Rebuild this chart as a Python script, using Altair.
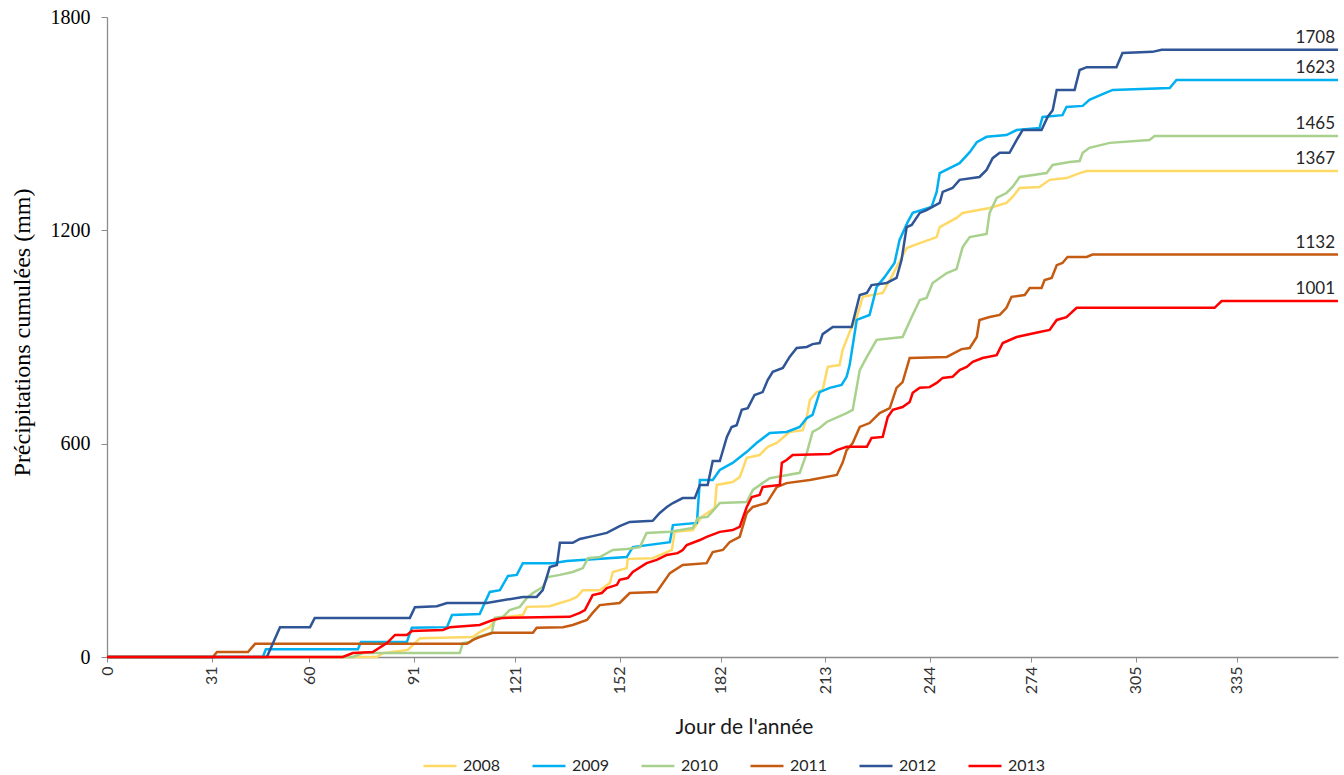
import altair as alt
import pandas as pd

# Series names and their line colours
years = ["2008", "2009", "2010", "2011", "2012", "2013"]
colors = ["#FFD966", "#00B0F0", "#A9D18E", "#C55A11", "#2F5597", "#FF0000"]

# Axis tick positions: first day of each month, and rainfall levels
month_ticks = [0, 31, 60, 91, 121, 152, 182, 213, 244, 274, 305, 335]
mm_ticks = [0, 600, 1200, 1800]

# Cumulative rainfall, (day of year, mm)
rain_2008 = [(0, 0), (80, 0), (81.8, 11), (89.2, 20), (92.8, 53), (108.5, 56), (110.5, 70),
             (113.5, 84), (115.6, 110), (118.6, 113), (123.3, 118), (124.5, 141), (131.3, 143),
             (134.3, 152), (137.2, 160), (139.3, 169), (141.1, 188), (146.1, 188), (149.1, 208),
             (150, 239), (154.1, 250), (154.4, 276), (161.8, 278), (166, 295), (167.5, 301),
             (168.3, 352), (173.7, 357), (176.3, 394), (180.2, 419), (180.8, 484), (185.5, 492),
             (187.6, 506), (189.7, 560), (193.5, 568), (195.9, 591), (198.6, 602), (202.4, 633),
             (206.3, 638), (207.5, 675), (208.4, 723), (210.4, 745), (212.2, 751), (213.7, 816),
             (217.2, 821), (218.1, 863), (220.2, 914), (222.3, 956), (224.1, 1013), (230, 1024),
             (232.1, 1060), (237.1, 1150), (241, 1164), (246, 1181), (246.9, 1209), (251.9, 1235),
             (253.7, 1249), (261.7, 1263), (266.7, 1277), (268.5, 1294), (270.6, 1319),
             (276.5, 1322), (279.5, 1342), (284.5, 1347), (288.4, 1361), (290.5, 1367), (365, 1367)]

rain_2009 = [(0, 0), (46.2, 0), (47.1, 22), (74.4, 22), (75.3, 42), (88.9, 42), (90.4, 82),
             (100.8, 84), (102.3, 118), (110.5, 121), (113.5, 183), (116.5, 188), (118.9, 228),
             (121.5, 231), (123.3, 264), (132.2, 264), (136.3, 270), (154.1, 281), (155.9, 309),
             (166.9, 323), (167.8, 371), (174.9, 377), (175.8, 498), (179.6, 498), (181.7, 526),
             (185.5, 546), (189.7, 577), (192.6, 602), (196.5, 630), (201.5, 633), (205.4, 647),
             (207.5, 672), (209.2, 681), (211.3, 745), (214.3, 757), (217.8, 765), (219.3, 788),
             (220.2, 821), (222.3, 948), (226.1, 962), (228.2, 1041), (230.6, 1069), (233.5, 1108),
             (235, 1173), (237.4, 1223), (238.9, 1249), (244.5, 1266), (246, 1308), (246.9, 1361),
             (252.8, 1389), (255.8, 1420), (257.9, 1448), (260.8, 1463), (266.7, 1468),
             (269.7, 1482), (276.5, 1488), (277.4, 1519), (283.3, 1524), (284.5, 1547),
             (289.3, 1550), (291.3, 1567), (295.2, 1583), (298.2, 1595), (315.1, 1600),
             (317.1, 1623), (365, 1623)]

rain_2010 = [(0, 0), (72.9, 0), (75.9, 11), (104.6, 11), (105.5, 39), (107.6, 42), (109.7, 56),
             (114.1, 68), (115, 110), (117.4, 113), (119.4, 132), (122.4, 141), (124.5, 166),
             (126.3, 180), (129.2, 197), (130.7, 225), (134.3, 231), (138.1, 239), (141.1, 250),
             (142.6, 278), (146.1, 281), (150, 301), (154.1, 304), (158, 309), (160, 349),
             (166.9, 352), (173.7, 363), (175.2, 391), (178.1, 394), (181.7, 433), (189.7, 436),
             (191.5, 470), (196.5, 503), (205.4, 518), (207.5, 574), (209.2, 633), (211.3, 644),
             (213.4, 661), (219.3, 686), (221.1, 695), (223.2, 807), (225.3, 844), (228.2, 892),
             (235.9, 900), (238.6, 956), (241, 1004), (243, 1010), (244.8, 1052), (249, 1080),
             (251.9, 1091), (253.7, 1153), (255.8, 1181), (260.8, 1190), (261.7, 1249),
             (263.8, 1291), (266.7, 1305), (268.5, 1322), (270.6, 1350), (278.6, 1361),
             (280.4, 1384), (285.4, 1392), (288.4, 1395), (289.3, 1418), (291.3, 1432),
             (297.3, 1446), (309.1, 1454), (310.6, 1465), (365, 1465)]

rain_2011 = [(0, 0), (31.4, 0), (32.6, 14), (41.8, 14), (43.9, 37), (106.7, 37), (108.5, 48),
             (110.5, 56), (114.4, 68), (126.3, 68), (127.4, 82), (135.2, 84), (138.1, 90),
             (142.3, 104), (144, 124), (146.1, 146), (152, 152), (155, 180), (163, 183),
             (166.9, 236), (170.7, 259), (177.8, 264), (179.6, 295), (182.6, 301), (184.6, 323),
             (187.6, 338), (189.7, 405), (191.5, 422), (195.6, 433), (198.6, 478), (201.5, 489),
             (208.4, 498), (216.4, 512), (218.1, 546), (219.3, 582), (221.1, 602), (223.2, 647),
             (226.1, 658), (229.1, 686), (232.1, 700), (234.1, 757), (235.9, 773), (238, 841),
             (249, 844), (253.4, 866), (255.8, 869), (257.9, 900), (258.7, 948), (261.7, 956),
             (264.7, 962), (266.7, 982), (268.2, 1013), (272.1, 1018), (273.6, 1038),
             (277.1, 1038), (278, 1060), (280.1, 1066), (281.6, 1102), (283.3, 1108),
             (284.8, 1125), (290.5, 1125), (292.2, 1132), (365, 1132)]

rain_2012 = [(0, 0), (47.4, 0), (51.3, 84), (60.2, 84), (61.6, 110), (89.8, 110), (91.3, 140),
             (97.8, 143), (100.8, 152), (112.6, 152), (123.3, 169), (127.4, 169), (129.2, 188),
             (131.3, 253), (133.4, 259), (134.3, 321), (138.1, 321), (140.2, 332), (144, 340),
             (148.2, 349), (152, 368), (155, 380), (161.8, 383), (163.9, 405), (166, 422),
             (167.8, 433), (170.7, 447), (174.3, 447), (175.8, 484), (178.1, 484), (179.6, 551),
             (181.7, 551), (183.8, 619), (185.2, 647), (186.7, 652), (188.2, 695), (190, 700),
             (192, 737), (194.4, 745), (195.9, 779), (197.4, 802), (200.4, 813), (202.4, 844),
             (204.5, 869), (207.5, 872), (209.2, 880), (211.3, 883), (212.2, 908), (215.2, 928),
             (220.8, 928), (223.2, 1018), (225.3, 1024), (226.7, 1046), (231.2, 1052),
             (234.1, 1066), (235.6, 1117), (237.1, 1209), (238.6, 1215), (241, 1249),
             (243, 1257), (246.9, 1277), (247.8, 1308), (250.7, 1319), (252.8, 1342),
             (258.7, 1350), (260.8, 1370), (262.6, 1403), (264.7, 1418), (267.6, 1418),
             (269.7, 1454), (271.5, 1482), (277.1, 1482), (278.9, 1519), (280.4, 1538),
             (281.6, 1595), (286.9, 1595), (288.4, 1651), (290.5, 1659), (299.3, 1659),
             (301.1, 1699), (310, 1702), (312.7, 1708), (365, 1708)]

rain_2013 = [(0, 0), (69.9, 0), (72.9, 11), (78.8, 14), (83, 39), (85.4, 62), (88.9, 62),
             (90.4, 73), (99.6, 76), (101.7, 84), (110.5, 90), (114.4, 104), (117.4, 110),
             (137.2, 113), (140.2, 124), (141.7, 132), (144, 174), (146.7, 180), (148.2, 194),
             (151.2, 203), (152, 217), (154.4, 222), (155.9, 239), (160, 264), (163, 273),
             (166, 287), (169.2, 292), (170.7, 301), (171.9, 315), (175.8, 329), (177.8, 338),
             (181.7, 352), (185.5, 357), (187.6, 366), (189.7, 422), (191.2, 450), (193.5, 456),
             (194.4, 478), (199.5, 484), (200.1, 546), (201.5, 554), (203.3, 568), (214.3, 571),
             (216.4, 582), (219.3, 591), (225.3, 591), (226.7, 616), (230, 619), (231.5, 675),
             (233, 695), (235.9, 703), (238, 717), (238.9, 743), (241, 757), (243.9, 759),
             (246, 771), (247.8, 785), (250.7, 788), (252.8, 807), (254.9, 816), (256.7, 830),
             (259.6, 841), (263.8, 849), (265.6, 883), (269.7, 900), (276.5, 914), (279.5, 920),
             (281.6, 948), (284.5, 956), (287.5, 982), (328.4, 982), (330.5, 1001), (365, 1001)]

series = {"2008": rain_2008, "2009": rain_2009, "2010": rain_2010,
          "2011": rain_2011, "2012": rain_2012, "2013": rain_2013}

df = pd.DataFrame([{"year": y, "day": d, "mm": m}
                   for y, pts in series.items() for d, m in pts])
totals = pd.DataFrame([{"year": y, "day": pts[-1][0], "mm": pts[-1][1]}
                       for y, pts in series.items()])

x_enc = alt.X(
    "day:Q",
    title="Jour de l'année",
    scale=alt.Scale(domain=[0, 365], nice=False, zero=False),
    axis=alt.Axis(
        values=month_ticks, grid=False, labelAngle=270, labelFlush=False,
        labelFont="Lato", labelFontSize=16, labelColor="#333333", labelPadding=4,
        tickSize=5, tickColor="#8c8c8c", domainColor="#8c8c8c", domainWidth=1.3,
        titleFont="Lato", titleFontSize=21, titleFontWeight="normal", titleColor="#1a1a1a",
        titleX=637, titleY=76, titleBaseline="alphabetic", titleAlign="center",
    ),
)
y_enc = alt.Y(
    "mm:Q",
    title="Précipitations cumulées (mm)",
    scale=alt.Scale(domain=[0, 1800], nice=False),
    axis=alt.Axis(
        values=mm_ticks, format="d", grid=False, labelFlush=False,
        labelFont="Liberation Serif", labelFontSize=20, labelColor="#000000", labelPadding=11,
        tickSize=6, tickColor="#8c8c8c", domainColor="#8c8c8c", domainWidth=1.3,
        titleFont="Liberation Serif", titleFontSize=24, titleFontWeight="normal",
        titleColor="#000000", titleAngle=270, titleX=-85, titleY=315, titleBaseline="middle",
    ),
)

color_enc = alt.Color(
    "year:N",
    scale=alt.Scale(domain=years, range=colors),
    legend=alt.Legend(
        title=None, orient="none", legendX=315, legendY=731, direction="horizontal",
        symbolType="stroke", symbolSize=1089, symbolStrokeWidth=2.5,
        labelFont="Lato", labelFontSize=16, labelColor="#262626",
        labelOffset=5, columnPadding=26,
    ),
)

lines = alt.Chart(df).mark_line(strokeWidth=2.5).encode(
    x=x_enc, y=y_enc, color=color_enc
)

labels = alt.Chart(totals).mark_text(
    align="right", baseline="alphabetic", dx=-3, dy=-7,
    font="Lato", fontSize=17, color="#262626",
).encode(
    x="day:Q", y="mm:Q", text=alt.Text("mm:Q", format="d")
)

chart = alt.layer(lines, labels).properties(
    width=1231, height=640,
    autosize=alt.AutoSizeParams(type="none"),
    padding={"left": 107, "top": 17, "right": 6, "bottom": 118},
).configure_view(stroke=None)

chart.save("out.html", embed_options={"renderer": "svg", "actions": False})
